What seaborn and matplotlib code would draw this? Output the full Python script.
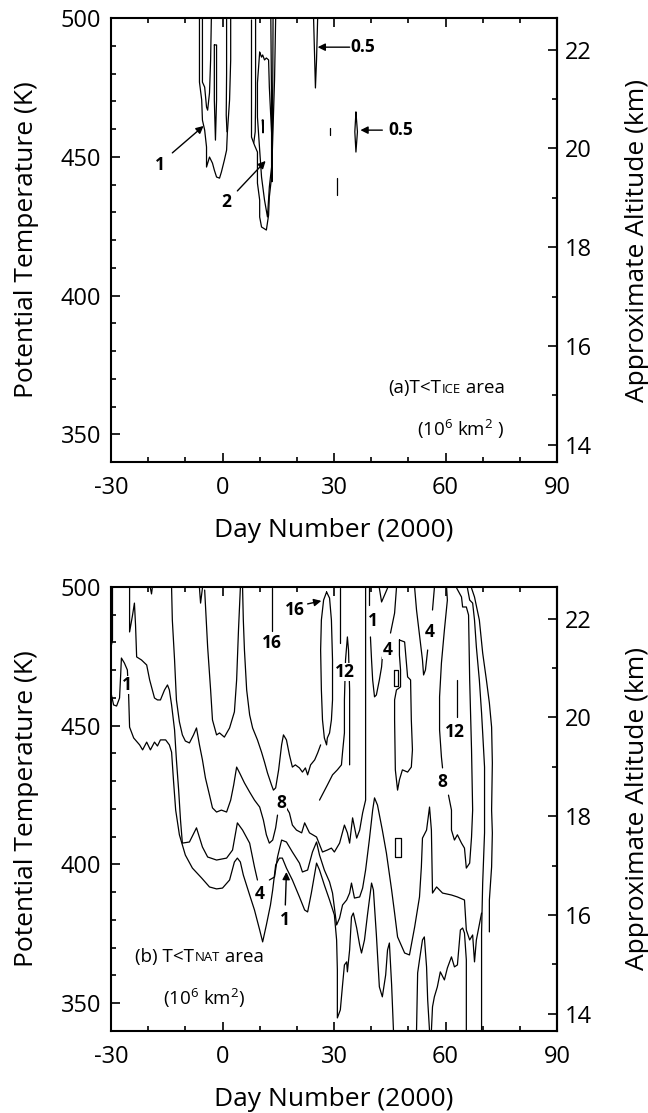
import numpy as np
import pandas as pd
import matplotlib
matplotlib.use("Agg")
import matplotlib.pyplot as plt
import seaborn as sns

# ---------------------------------------------------------------------------
# Contour traces: (day number, potential temperature K)
# ---------------------------------------------------------------------------

# (a) area with T < T_ICE (10^6 km^2)
ICE_1_OUTER_LEFT = [(-6.2, 500), (-6.2, 488.5), (-6.2, 476.9), (-5.6, 470.5), (-5.4, 463.2),
                    (-4.8, 459.6), (-4.3, 453.5), (-4.3, 446.3), (-3.5, 449.9), (-2.7, 447.7),
                    (-2.2, 445.2), (-1.6, 442.7), (-0.8, 442.3), (-0.3, 444.5), (0.5, 448.8),
                    (1.1, 452.4), (1.3, 458.6), (1.9, 470.5), (2.2, 484.9), (2.2, 500)]
ICE_1_EDGE_LEFT = [(1.1, 500), (1.1, 480), (1.0, 465), (1.2, 459)]
ICE_2_LEFT = [(-5.4, 500), (-5.4, 484.9), (-5.4, 476.9), (-4.8, 475.1), (-4.3, 467.9),
              (-4.0, 466.8), (-3.5, 473.0), (-3.2, 484.9), (-3.0, 500)]
ICE_2_LEFT_SLIVER = [(-2.2, 490.3), (-2.2, 470.5), (-1.9, 456.0), (-1.6, 470.5), (-1.6, 490.3), (-2.2, 490.3)]
ICE_1_OUTER_MID = [(7.8, 499.3), (7.8, 457.1), (8.6, 454.2), (9.4, 451.7), (9.4, 440.5),
                   (10.0, 434.4), (10.0, 428.3), (10.5, 424.7), (11.8, 423.6), (12.4, 429.0),
                   (12.6, 435.5), (13.2, 442.7), (13.5, 456.0), (14.0, 477.7), (14.3, 500)]
ICE_1_EDGE_MID = [(8.9, 500), (8.9, 470), (8.8, 459), (8.4, 455)]
ICE_2_MID = [(10.0, 487.7), (10.5, 485.9), (10.8, 486.7), (11.3, 484.9), (11.8, 485.6),
             (12.4, 484.9), (12.6, 475.1), (13.2, 458.6), (13.2, 446.3), (12.6, 439.1),
             (12.1, 428.3), (11.3, 434.4), (10.5, 442.7), (10.0, 452.4), (9.4, 464.3),
             (9.4, 476.6), (10.0, 487.7)]
ICE_2_MID_SLIVER = [(13.0, 500), (13.2, 470), (13.3, 441), (13.5, 470), (13.6, 500)]
ICE_SPOT_MID = [(10.7, 463.2), (10.9, 458.6), (11.0, 463.2), (10.7, 463.2)]
ICE_05_UPPER = [(24.5, 500), (24.8, 485), (25.0, 474.8), (25.3, 485), (25.6, 500)]
ICE_SPOT_28 = [(28.8, 460.4), (28.8, 457.8)]
ICE_05_LOWER = [(35.9, 466.1), (35.6, 459), (35.9, 451.7), (36.3, 459), (35.9, 466.1)]
ICE_SPOT_31 = [(30.9, 442.3), (30.9, 436.2)]

# (b) area with T < T_NAT (10^6 km^2)
NAT_1_TOP_EDGE = [(-29.6, 499.6), (-29.6, 489.9), (-29.6, 480.9), (-30.0, 478.4)]
NAT_1_MAIN = [(-30.0, 461.8), (-29.3, 457.5), (-28.5, 457.1), (-27.7, 460.0), (-27.4, 468.3),
              (-27.2, 474.4), (-26.4, 472.6), (-25.6, 470.1), (-25.3, 462.9), (-25.0, 449.5),
              (-23.9, 445.6), (-22.3, 443.1), (-21.5, 441.3), (-20.4, 444.1), (-19.4, 441.3),
              (-18.3, 444.1), (-17.5, 442.7), (-16.7, 444.9), (-15.3, 444.9), (-14.3, 443.1),
              (-13.7, 440.5), (-13.2, 430.5), (-12.6, 419.6), (-11.6, 410.7), (-10.0, 403.4),
              (-8.1, 398.7), (-5.6, 395.1), (-3.5, 391.9), (-1.6, 391.2), (0.0, 391.5),
              (1.9, 394.4), (3.2, 400.9), (4.0, 402.3), (4.8, 400.9), (5.6, 396.2),
              (7.3, 389.0), (8.6, 383.6), (10.0, 376.4), (10.8, 372.1), (11.8, 378.2),
              (12.9, 385.4), (13.5, 390.8), (14.3, 399.8), (15.3, 402.3), (16.1, 402.3),
              (17.2, 398.7), (18.8, 394.4), (20.7, 388.3), (22.1, 383.6), (22.9, 382.9),
              (23.9, 389.7), (25.3, 400.5), (26.1, 398.0), (27.4, 392.6), (28.8, 387.2),
              (30.1, 381.8), (30.7, 372.8), (30.9, 362.0), (30.9, 344.7), (31.7, 347.6),
              (32.3, 356.6), (32.8, 363.8), (33.4, 364.9), (33.6, 361.3), (34.2, 369.2),
              (34.7, 381.1), (35.2, 382.5), (36.1, 377.1), (36.9, 371.0), (37.4, 368.1),
              (38.2, 372.8), (39.0, 381.8), (40.1, 393.3), (40.6, 390.8), (41.4, 374.6),
              (42.2, 355.9), (43.0, 352.3), (43.9, 360.2), (44.4, 369.2), (44.9, 371.7),
              (45.5, 356.6), (46.0, 340.0)]
NAT_4_LEFT = [(-25.0, 499.6), (-25.0, 491.7), (-25.0, 483.8), (-24.2, 489.9), (-23.7, 494.2),
              (-23.4, 486.3), (-23.1, 474.8), (-21.8, 473.7), (-20.4, 471.9), (-19.6, 466.5),
              (-18.3, 460.0), (-17.5, 459.3), (-16.7, 459.3), (-15.6, 462.9), (-14.8, 464.7),
              (-14.3, 462.9), (-13.7, 457.5), (-12.9, 448.5), (-12.4, 437.7), (-11.8, 426.8),
              (-11.3, 416.0), (-10.8, 407.7), (-8.9, 408.1), (-7.0, 413.2), (-5.4, 406.3),
              (-4.0, 402.7), (-1.6, 401.6), (1.1, 402.3), (2.7, 405.2), (4.0, 415.0),
              (5.4, 412.4), (7.3, 407.7), (8.6, 399.1), (9.4, 394.4)]
NAT_4_RIGHT = [(12.6, 394.4), (14.0, 395.5), (14.8, 402.7), (15.9, 408.8), (17.2, 408.1),
               (18.8, 404.5), (20.7, 400.5), (21.5, 397.3), (22.9, 398.0), (24.2, 404.5),
               (25.3, 408.1), (26.1, 403.4), (27.4, 398.0), (28.8, 393.7), (29.6, 389.7),
               (30.7, 378.2), (31.5, 380.7), (32.3, 385.4), (33.4, 387.2), (34.2, 389.7),
               (34.7, 393.3), (35.5, 387.9), (36.9, 388.3), (37.7, 391.5), (38.5, 398.0),
               (39.5, 408.8), (40.4, 419.6), (40.9, 424.0), (41.7, 421.4), (43.0, 412.4),
               (44.1, 404.1), (45.5, 390.8), (46.3, 382.5), (47.1, 373.9), (49.0, 368.1),
               (50.3, 367.4), (51.7, 377.5), (53.0, 388.3), (53.5, 399.1), (53.8, 409.5),
               (54.9, 412.4), (55.7, 420.7), (56.2, 412.4), (56.5, 389.7), (57.6, 391.9),
               (59.2, 389.7), (61.6, 389.0), (63.2, 388.3), (65.1, 387.2), (65.6, 376.4),
               (66.5, 372.8), (67.3, 374.6), (67.8, 364.9), (68.3, 372.8), (69.7, 382.5)]
NAT_8_LEFT = [(-13.7, 499.6), (-13.5, 488.1), (-12.9, 473.7), (-12.4, 459.3), (-11.6, 451.4),
              (-10.8, 446.7), (-10.0, 444.5), (-8.9, 443.8), (-7.8, 446.7), (-7.0, 449.2),
              (-6.2, 443.1), (-5.4, 437.7), (-4.6, 431.2), (-3.5, 425.0), (-2.7, 420.4),
              (-1.6, 418.9), (-0.3, 419.6), (1.1, 418.9), (2.2, 423.2), (3.0, 428.6),
              (3.8, 435.1), (4.6, 433.0), (5.9, 429.4), (7.3, 426.1), (8.6, 423.2),
              (10.0, 420.7), (11.0, 416.0), (11.8, 410.7), (12.6, 407.7), (13.5, 408.8),
              (14.3, 413.2), (14.8, 417.8)]
NAT_8_MID = [(17.2, 420.4), (18.0, 418.6), (18.8, 414.2), (19.9, 412.4), (21.3, 411.4),
             (22.1, 415.0), (23.4, 411.4), (25.3, 409.9), (26.9, 404.5), (28.2, 405.2),
             (29.3, 405.9), (30.1, 404.5), (31.5, 407.7), (32.8, 414.2), (33.6, 411.4),
             (34.2, 407.7), (35.0, 416.8), (36.1, 409.5), (36.9, 412.4), (37.7, 418.6),
             (38.5, 423.2), (38.5, 459.3), (38.5, 499.6)]
NAT_16_LEFT = [(-4.8, 498.9), (-4.0, 478.4), (-3.2, 462.9), (-2.7, 452.1), (-1.6, 446.7),
               (-0.8, 447.4), (0.5, 445.9), (1.9, 449.2), (3.2, 455.0), (3.8, 466.5),
               (4.3, 484.5), (4.8, 499.6)]
NAT_12_LEFT = [(5.4, 499.6), (5.6, 488.1), (5.9, 477.3), (6.5, 462.9), (7.3, 453.9),
               (8.1, 449.2), (9.4, 444.9), (10.5, 440.5), (11.3, 436.9), (12.1, 433.0),
               (13.2, 428.6), (13.7, 426.8), (14.3, 427.6), (15.1, 434.1), (15.9, 443.1),
               (16.4, 446.7), (17.2, 444.9), (18.0, 439.5), (18.8, 435.1), (19.6, 435.9),
               (20.7, 434.8), (21.5, 433.3), (22.3, 434.8), (22.9, 432.3), (23.7, 435.9),
               (24.8, 437.7), (25.6, 440.2), (26.4, 443.1)]
NAT_16_ISLAND = [(28.0, 498.2), (28.8, 496.0), (29.3, 488.1), (29.6, 473.7), (29.6, 459.3),
                 (29.3, 452.1), (28.8, 447.4), (28.2, 445.6), (28.0, 443.1), (27.4, 445.6),
                 (26.9, 452.1), (26.6, 462.9), (26.4, 477.3), (26.6, 488.1), (27.2, 495.3),
                 (28.0, 498.2)]
NAT_16_STUB = [(13.2, 499.6), (13.2, 484.0)]
NAT_12_STUB = [(31.5, 499.6), (31.5, 491.7), (31.5, 479.8)]
NAT_12_SPIKE = [(26.1, 423.2), (28.2, 428.6), (29.6, 432.3), (30.9, 434.1), (32.0, 435.9),
                (32.3, 440.5), (32.8, 447.4), (32.8, 459.3), (33.1, 473.7), (33.6, 482.0),
                (33.9, 477.3), (34.2, 462.9), (34.2, 448.5), (34.2, 435.9)]
NAT_1_UPPER_A = [(39.3, 499.6), (39.3, 493.5)]
NAT_1_UPPER_B = [(39.8, 482.0), (40.1, 473.7), (40.4, 466.5), (40.9, 460.4), (41.4, 461.1),
                 (42.2, 466.5), (42.8, 471.2), (43.0, 474.8)]
NAT_1_UPPER_C = [(45.2, 483.4), (46.3, 490.6), (46.8, 499.6)]
NAT_NOTCH_43 = [(42.2, 499.6), (42.8, 494.6), (43.6, 497.1), (44.4, 499.6)]
NAT_4_LOOP = [(47.6, 480.9), (49.0, 480.2), (49.8, 467.6), (50.6, 466.5), (50.8, 452.1),
              (51.1, 441.3), (50.8, 435.1), (49.8, 433.3), (48.4, 434.1), (47.6, 430.5),
              (47.1, 426.8), (46.5, 434.1), (46.3, 452.1), (46.3, 459.3), (46.8, 462.9),
              (47.9, 464.0), (47.9, 470.1), (47.6, 475.5), (47.6, 480.9)]
NAT_BOX_UPPER = [(46.2, 470.1), (47.2, 470.1), (47.2, 464.3), (46.2, 464.3), (46.2, 470.1)]
NAT_BOX_LOWER = [(46.3, 409.5), (47.9, 409.5), (47.9, 402.7), (46.3, 402.7), (46.3, 409.5)]
NAT_4_UPPER_A = [(51.7, 499.6), (52.2, 491.7), (53.0, 482.7), (53.8, 473.7), (54.1, 468.3),
                 (54.6, 470.1), (55.2, 477.3)]
NAT_4_UPPER_B = [(56.5, 491.7), (57.0, 499.6)]
NAT_8_RIGHT_A = [(60.3, 499.6), (60.5, 495.3), (59.7, 484.5), (58.9, 472.6), (58.4, 460.4),
                 (58.4, 448.5), (58.9, 438.7), (59.2, 434.8)]
NAT_8_RIGHT_B = [(60.8, 425.0), (61.6, 419.6), (61.6, 412.4), (62.4, 408.8), (63.2, 410.7),
                 (64.3, 407.7), (65.1, 405.9), (65.6, 398.7), (66.5, 400.5), (67.0, 409.9),
                 (67.3, 419.6), (67.0, 441.3), (66.5, 466.5), (66.2, 489.9), (65.6, 492.8),
                 (64.6, 492.8), (64.3, 496.4), (63.0, 499.6)]
NAT_12_RIGHT = [(63.0, 466.5), (63.0, 453.2)]
NAT_4_EDGE = [(65.9, 499.6), (66.5, 495.3), (67.3, 494.2), (67.8, 488.1), (68.3, 478.4),
              (69.1, 466.5), (69.7, 454.6), (70.0, 447.4), (70.5, 435.1), (70.5, 419.6),
              (70.5, 411.4), (70.0, 393.3), (69.7, 375.3), (69.7, 340.0)]
NAT_1_EDGE = [(67.0, 499.6), (67.8, 496.4), (69.1, 488.1), (70.0, 476.2), (71.0, 466.5),
              (71.8, 458.2), (72.4, 449.5), (72.6, 436.6), (72.4, 419.6), (72.6, 411.4),
              (72.4, 399.1), (71.8, 387.2), (71.8, 375.7)]
NAT_1_LOW_A = [(52.2, 340.0), (52.5, 360.9), (53.0, 365.6), (53.8, 372.8), (54.3, 373.9),
               (54.9, 363.1), (55.2, 351.2), (55.7, 340.0)]
NAT_1_LOW_B = [(56.2, 340.0), (56.5, 348.7), (57.0, 352.3), (57.8, 355.9), (58.6, 361.3),
               (59.7, 358.4), (60.5, 362.7), (61.6, 366.7), (62.4, 363.1), (63.2, 363.8),
               (64.0, 376.4), (64.6, 377.1), (65.1, 375.3), (65.6, 365.6), (65.6, 340.0)]
NAT_NOTCH_19 = [(-19.4, 499.6), (-19.1, 497.5), (-18.9, 499.6)]
NAT_NOTCH_6 = [(-6.2, 499.6), (-5.9, 494.2), (-5.4, 499.6)]

# Contour value labels: (day, theta, text)
ICE_LABELS = [(37.7, 489.5, "0.5"), (47.9, 459.6, "0.5"), (-16.9, 447.0, "1"), (1.1, 433.7, "2")]
ICE_ARROWS = [((34.2, 489.5), (25.6, 489.5)), ((43.0, 459.6), (37.1, 459.6)),
              ((-13.5, 451.4), (-5.1, 461.1)), ((4.0, 437.7), (11.6, 448.5))]
NAT_LABELS = [(-25.6, 464.7, "1"), (13.2, 479.8, "16"), (19.4, 491.7, "16"), (32.8, 469.4, "12"),
              (40.6, 487.7, "1"), (44.4, 477.3, "4"), (55.7, 483.8, "4"), (62.4, 447.7, "12"),
              (59.2, 429.7, "8"), (15.9, 422.2, "8"), (10.0, 389.4, "4"), (16.7, 380.0, "1")]
NAT_ARROWS = [((22.9, 493.9), (26.6, 495.0)), ((16.9, 385.4), (17.2, 397.3))]

ICE_STROKES = [ICE_1_OUTER_LEFT, ICE_1_EDGE_LEFT, ICE_2_LEFT, ICE_2_LEFT_SLIVER, ICE_1_OUTER_MID,
               ICE_1_EDGE_MID, ICE_2_MID, ICE_2_MID_SLIVER, ICE_SPOT_MID, ICE_05_UPPER,
               ICE_SPOT_28, ICE_05_LOWER, ICE_SPOT_31]
NAT_STROKES = [NAT_1_TOP_EDGE, NAT_1_MAIN, NAT_4_LEFT, NAT_4_RIGHT, NAT_8_LEFT, NAT_8_MID,
               NAT_16_LEFT, NAT_12_LEFT, NAT_16_ISLAND, NAT_16_STUB, NAT_12_STUB, NAT_12_SPIKE,
               NAT_1_UPPER_A, NAT_1_UPPER_B, NAT_1_UPPER_C, NAT_NOTCH_43, NAT_4_LOOP,
               NAT_BOX_UPPER, NAT_BOX_LOWER, NAT_4_UPPER_A, NAT_4_UPPER_B, NAT_8_RIGHT_A,
               NAT_8_RIGHT_B, NAT_12_RIGHT, NAT_4_EDGE, NAT_1_EDGE, NAT_1_LOW_A, NAT_1_LOW_B,
               NAT_NOTCH_19, NAT_NOTCH_6]

DAY_TICKS = [-30, 0, 30, 60, 90]
THETA_TICKS = [350, 400, 450, 500]
KM_TICKS = [14, 16, 18, 20, 22]

# ---------------------------------------------------------------------------
sns.set_theme(style="ticks")
plt.rcParams["font.family"] = ["Open Sans", "DejaVu Sans"]
plt.rcParams["mathtext.fontset"] = "custom"
plt.rcParams["mathtext.rm"] = "Open Sans"
plt.rcParams["axes.unicode_minus"] = False
plt.rcParams["axes.edgecolor"] = "black"
plt.rcParams["xtick.color"] = "black"
plt.rcParams["ytick.color"] = "black"
plt.rcParams["text.color"] = "black"
plt.rcParams["axes.labelcolor"] = "black"

TICK_FS = 17
LABEL_FS = 19
NOTE_FS = 13.5
CONTOUR_FS = 12.5


def theta_to_km(t):
    return 22 + (np.asarray(t, dtype=float) - 488.6) / 17.8


def km_to_theta(k):
    return 488.6 + (np.asarray(k, dtype=float) - 22) * 17.8


def draw_strokes(ax, strokes):
    for pts in strokes:
        df = pd.DataFrame(pts, columns=["day", "theta"])
        sns.lineplot(data=df, x="day", y="theta", sort=False, estimator=None,
                     ax=ax, color="black", lw=0.9)


def draw_labels(ax, labels, arrows):
    for x, y, s in labels:
        ax.text(x, y, s, ha="center", va="center", fontsize=CONTOUR_FS, fontweight="bold",
                bbox=dict(facecolor="white", edgecolor="none", pad=0.3), zorder=5)
    for tail, head in arrows:
        ax.annotate("", xy=head, xytext=tail,
                    arrowprops=dict(arrowstyle="-|>", color="black", lw=1.0,
                                    mutation_scale=11, shrinkA=0, shrinkB=0), zorder=6)


def style_axes(ax):
    ax.set_xlim(-30, 90)
    ax.set_ylim(340, 500)
    ax.set_xticks(DAY_TICKS)
    ax.set_xticks(np.arange(-30, 91, 10), minor=True)
    ax.set_yticks(THETA_TICKS)
    ax.set_yticks(np.arange(340, 501, 10), minor=True)
    ax.tick_params(which="both", direction="in", top=True, right=False, width=1.2,
                   labelsize=TICK_FS, colors="black")
    ax.tick_params(which="major", length=6.5)
    ax.tick_params(which="minor", length=3.3)
    ax.tick_params(axis="x", which="major", pad=10)
    ax.tick_params(axis="y", which="major", pad=7)
    for s in ax.spines.values():
        s.set_linewidth(1.5)
        s.set_color("black")
    ax.set_xlabel("Day Number (2000)", fontsize=LABEL_FS, labelpad=13)
    ax.set_ylabel("Potential Temperature (K)", fontsize=LABEL_FS, labelpad=16)
    sec = ax.secondary_yaxis("right", functions=(theta_to_km, km_to_theta))
    sec.set_yticks(KM_TICKS)
    sec.set_yticks(np.arange(14, 23, 1), minor=True)
    sec.tick_params(which="both", direction="in", width=1.2, labelsize=TICK_FS, colors="black")
    sec.tick_params(which="major", length=6.5, pad=5.5)
    sec.tick_params(which="minor", length=3.3)
    sec.spines["right"].set_linewidth(1.5)
    sec.set_ylabel("Approximate Altitude (km)", fontsize=LABEL_FS, labelpad=24)


def small_caps_title(ax, x, y, head, caps, tail):
    t1 = ax.text(x, y, head, transform=ax.transAxes, fontsize=NOTE_FS, va="baseline", ha="left")
    t2 = ax.annotate(caps, xy=(1, 0), xycoords=t1, xytext=(0.3, 1.2), textcoords="offset points",
                     fontsize=NOTE_FS * 0.7, va="bottom", ha="left")
    ax.annotate(tail, xy=(1, 0), xycoords=t2, xytext=(0, -1.2), textcoords="offset points",
                fontsize=NOTE_FS, va="bottom", ha="left")


fig = plt.figure(figsize=(6.48, 11.13), dpi=100)
ax_a = fig.add_axes([0.1713, 0.5849, 0.6883, 0.3989])
ax_b = fig.add_axes([0.1713, 0.0737, 0.6883, 0.3989])

draw_strokes(ax_a, ICE_STROKES)
draw_labels(ax_a, ICE_LABELS, ICE_ARROWS)
style_axes(ax_a)
small_caps_title(ax_a, 0.621, 0.155, "(a)T<T", "ICE", " area")
ax_a.text(0.686, 0.058, r"(10$^{\mathregular{6}}$ km$^{\mathregular{2}}$ )",
          transform=ax_a.transAxes, fontsize=NOTE_FS, va="baseline", ha="left")

draw_strokes(ax_b, NAT_STROKES)
draw_labels(ax_b, NAT_LABELS, NAT_ARROWS)
style_axes(ax_b)
small_caps_title(ax_b, 0.054, 0.155, "(b) T<T", "NAT", " area")
ax_b.text(0.117, 0.058, r"(10$^{\mathregular{6}}$ km$^{\mathregular{2}}$)",
          transform=ax_b.transAxes, fontsize=NOTE_FS, va="baseline", ha="left")

fig.savefig("out.png", dpi=100)
